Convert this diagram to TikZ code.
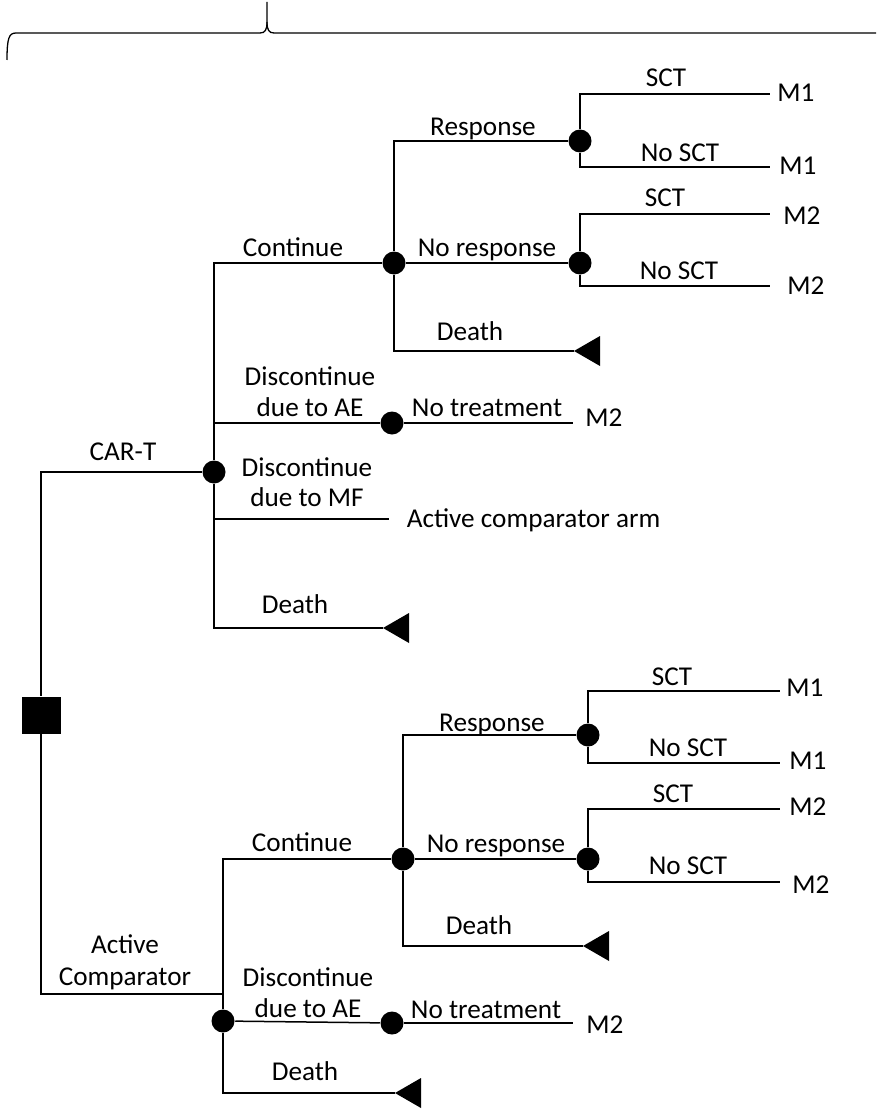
\documentclass[tikz,border=0pt]{standalone}
\usepackage{fontspec}
\setmainfont{Carlito}
\begin{document}
\begin{tikzpicture}[x=1pt,y=-1pt, line width=1.5pt,
  chance/.style={circle, fill=black, inner sep=0pt, minimum size=23pt},
  decision/.style={rectangle, fill=black, inner sep=0pt, minimum width=39pt, minimum height=37pt},
  lbl/.style={font=\fontsize{27.2}{31}\selectfont, inner sep=0pt, text height=16pt, text depth=0pt},
  termtri/.style={fill=black}]
\useasboundingbox (0,0) rectangle (876,1110);
% brace
\draw[line width=1.3pt] (7,60) .. controls (7,38) and (9,33) .. (16,33) -- (260,33) .. controls (265,33) and (267,30) .. (267,22) -- (267,2);
\draw[line width=1.3pt] (267,22) .. controls (267,30) and (269,33) .. (274,33) -- (876,33);

% ---------- nodes, upper tree ----------
\node[decision] (root) at (41,715) {};
\node[chance] (c1) at (214,472) {};
\node[chance] (n1) at (394,263) {};
\node[chance] (n2) at (392,423) {};
\node[chance] (n3) at (580,141) {};
\node[chance] (n4) at (580,263) {};
\coordinate (mf) at (389,519);
\coordinate (t1) at (383,628);
\coordinate (t2) at (574,351);
\coordinate (e1) at (770,94);
\coordinate (e2) at (770,167);
\coordinate (e3) at (770,214);
\coordinate (e4) at (770,286);
\coordinate (nt1) at (573,423);

% ---------- nodes, lower tree ----------
\coordinate (ac) at (223,994);
\node[chance] (c2) at (223,1021) {};
\node[chance] (n5) at (403,859) {};
\node[chance] (n6) at (392,1023) {};
\node[chance] (n7) at (588,735) {};
\node[chance] (n8) at (588,859) {};
\coordinate (t3) at (395,1093);
\coordinate (t4) at (583,946);
\coordinate (f1) at (780,691);
\coordinate (f2) at (780,763);
\coordinate (f3) at (780,809);
\coordinate (f4) at (780,882);
\coordinate (nt2) at (573,1023);

% ---------- connectors ----------
\draw (root) |- (c1);
\draw (root) |- (ac);
\draw (c1) |- (n1);
\draw (c1) |- (n2);
\draw (c1) |- (mf);
\draw (c1) |- (t1);
\draw (n1) |- (n3);
\draw (n1) -- (n4);
\draw (n1) |- (t2);
\draw (n3) |- (e1);
\draw (n3) |- (e2);
\draw (n4) |- (e3);
\draw (n4) |- (e4);
\draw (n2) -- (nt1);

\draw (c2) |- (n5);
\draw (c2) -- (n6);
\draw (c2) |- (t3);
\draw (n5) |- (n7);
\draw (n5) -- (n8);
\draw (n5) |- (t4);
\draw (n7) |- (f1);
\draw (n7) |- (f2);
\draw (n8) |- (f3);
\draw (n8) |- (f4);
\draw (n6) -- (nt2);

% terminal triangles
\fill[termtri] (t1) -- ++(26,-15) -- ++(0,30) -- cycle;
\fill[termtri] (t2) -- ++(26,-15) -- ++(0,30) -- cycle;
\fill[termtri] (t3) -- ++(26,-15) -- ++(0,30) -- cycle;
\fill[termtri] (t4) -- ++(26,-15) -- ++(0,30) -- cycle;

% ---------- labels, upper tree ----------
\node[lbl] (lcart) at (123,452) {CAR-T};
\node[lbl] (lcont1) at (293,248) {Continue};
\node[lbl] (ldae1a) at (310,377) {Discontinue};
\node[lbl] (ldae1b) at (310,408) {due to AE};
\node[lbl] (ldmfa) at (307,468) {Discontinue};
\node[lbl] (ldmfb) at (307,498) {due to MF};
\node[lbl, anchor=west] (lacarm) at (406,519) {Active comparator arm};
\node[lbl] (ldeath1) at (295,605) {Death};
\node[lbl] (lresp1) at (483,128) {Response};
\node[lbl] (lnoresp1) at (487,248) {No response};
\node[lbl] (ldeath2) at (470,332) {Death};
\node[lbl] (lnotr1) at (487,408) {No treatment};
\node[lbl] (lm2a) at (604,418) {M2};
\node[lbl] (ls1) at (666,79) {SCT};
\node[lbl] (lm1a) at (796,94) {M1};
\node[lbl] (lns1) at (680,154) {No SCT};
\node[lbl] (lm1b) at (798,167) {M1};
\node[lbl] (ls2) at (665,198) {SCT};
\node[lbl] (lm2b) at (802,216) {M2};
\node[lbl] (lns2) at (679,271) {No SCT};
\node[lbl] (lm2c) at (806,286) {M2};

% ---------- labels, lower tree ----------
\node[lbl] (lact) at (125,945) {Active};
\node[lbl] (lcomp) at (125,977) {Comparator};
\node[lbl] (lcont2) at (302,843) {Continue};
\node[lbl] (ldae2a) at (308,978) {Discontinue};
\node[lbl] (ldae2b) at (308,1009) {due to AE};
\node[lbl] (ldeath3) at (305,1072) {Death};
\node[lbl] (lresp2) at (492,723) {Response};
\node[lbl] (lnoresp2) at (496,844) {No response};
\node[lbl] (ldeath4) at (479,926) {Death};
\node[lbl] (lnotr2) at (486,1010) {No treatment};
\node[lbl] (lm2d) at (605,1025) {M2};
\node[lbl] (ls3) at (672,677) {SCT};
\node[lbl] (lm1c) at (805,688) {M1};
\node[lbl] (lns3) at (688,748) {No SCT};
\node[lbl] (lm1d) at (808,761) {M1};
\node[lbl] (ls4) at (673,794) {SCT};
\node[lbl] (lm2e) at (808,807) {M2};
\node[lbl] (lns4) at (688,866) {No SCT};
\node[lbl] (lm2f) at (811,885) {M2};
\end{tikzpicture}
\end{document}
